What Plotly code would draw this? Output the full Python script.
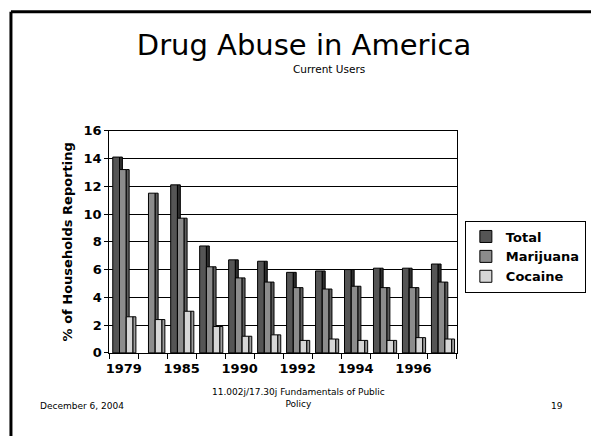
import plotly.graph_objects as go

# ---- data ----
years = ["1979", "1982", "1985", "1988", "1990", "1991",
         "1992", "1993", "1994", "1995", "1996", "1997"]
total = [14.1, None, 12.1, 7.7, 6.7, 6.6, 5.8, 5.9, 6.0, 6.1, 6.1, 6.4]
marijuana = [13.2, 11.5, 9.7, 6.2, 5.4, 5.1, 4.7, 4.6, 4.8, 4.7, 4.7, 5.1]
cocaine = [2.6, 2.4, 3.0, 1.9, 1.2, 1.3, 0.9, 1.0, 0.9, 0.9, 1.1, 1.0]
tick_labels = ["1979", "", "1985", "", "1990", "", "1992", "", "1994", "", "1996", ""]
y_ticks = [0, 2, 4, 6, 8, 10, 12, 14, 16]

series_names = ["Total", "Marijuana", "Cocaine"]
series_values = [total, marijuana, cocaine]
front_colors = ["#555555", "#8c8c8c", "#d6d6d6"]
side_colors = ["#2e2e2e", "#5e5e5e", "#9e9e9e"]

W, H = 591, 444
FONT = "DejaVu Sans"

# bar geometry (in category units): three front faces + a narrow side face
BAR_W = 0.233
SIDE_W = 0.10
START = -0.38

fig = go.Figure()
for i, (name, vals) in enumerate(zip(series_names, series_values)):
    off = START + i * BAR_W
    fig.add_trace(go.Bar(
        x=years, y=vals, name=name, offset=off, width=BAR_W,
        marker=dict(color=front_colors[i], line=dict(color="black", width=1)),
        legendrank=i,
    ))
    fig.add_trace(go.Bar(
        x=years, y=vals, name=name + " side", offset=off + BAR_W, width=SIDE_W,
        marker=dict(color=side_colors[i], line=dict(color="black", width=1)),
        showlegend=False, hoverinfo="skip",
    ))

fig.update_layout(
    width=W, height=H,
    margin=dict(l=0, r=0, t=0, b=0),
    paper_bgcolor="white", plot_bgcolor="white",
    barmode="overlay",
    font=dict(family=FONT, color="black"),
    title=dict(text="Drug Abuse in America", x=304 / W, xanchor="center",
               y=1 - 45 / H, yanchor="middle",
               font=dict(family=FONT, size=29, color="black")),
    legend=dict(x=464 / W, y=1 - 221 / H, xanchor="left", yanchor="top",
                bordercolor="black", borderwidth=1, bgcolor="white",
                font=dict(family=FONT, size=13, color="black", weight="bold"),
                tracegroupgap=0, itemwidth=30, traceorder="normal"),
    xaxis=dict(domain=[106 / W, 456 / W], type="category",
               tickmode="array", tickvals=years, ticktext=tick_labels,
               tickson="boundaries", ticks="outside", ticklen=5,
               tickangle=0, ticklabelstandoff=3,
               tickcolor="black", showline=True, linecolor="black",
               linewidth=1, mirror=True, showgrid=False,
               range=[-0.5, len(years) - 0.5],
               tickfont=dict(family=FONT, size=13, color="black", weight="bold")),
    yaxis=dict(domain=[1 - 358 / H, 1 - 128 / H], range=[0, 16],
               tickmode="array", tickvals=y_ticks,
               ticks="outside", ticklen=4, tickcolor="black",
               showline=True, linecolor="black", linewidth=1, mirror=True,
               showgrid=True, gridcolor="black", gridwidth=1, zeroline=False,
               tickfont=dict(family=FONT, size=13, color="black", weight="bold"),
               title=dict(text="% of Households Reporting", standoff=8,
                          font=dict(family=FONT, size=13, color="black",
                                    weight="bold"))),
)

fig.add_annotation(text="Current Users", xref="paper", yref="paper",
                   x=327 / W, y=1 - 64 / H, xanchor="center", yanchor="middle",
                   showarrow=False,
                   font=dict(family=FONT, size=10.5, color="black"))
fig.add_annotation(text="December 6, 2004", xref="paper", yref="paper",
                   x=34 / W, y=1 - 413 / H, xanchor="left", yanchor="middle",
                   showarrow=False,
                   font=dict(family=FONT, size=9, color="black"))
fig.add_annotation(text="11.002j/17.30j Fundamentals of Public<br>Policy",
                   xref="paper", yref="paper",
                   x=297 / W, y=1 - 405 / H, xanchor="center", yanchor="middle",
                   showarrow=False, align="center",
                   font=dict(family=FONT, size=9, color="black"))
fig.add_annotation(text="19", xref="paper", yref="paper",
                   x=557 / W, y=1 - 413 / H, xanchor="center", yanchor="middle",
                   showarrow=False,
                   font=dict(family=FONT, size=9, color="black"))

# slide frame (top and left edges)
fig.add_shape(type="line", xref="paper", yref="paper",
              x0=7 / W, x1=1, y0=1 - 5 / H, y1=1 - 5 / H,
              line=dict(color="black", width=3))
fig.add_shape(type="line", xref="paper", yref="paper",
              x0=7 / W, x1=7 / W, y0=1 - 5 / H, y1=0,
              line=dict(color="black", width=3))

fig.write_html("out.html")
